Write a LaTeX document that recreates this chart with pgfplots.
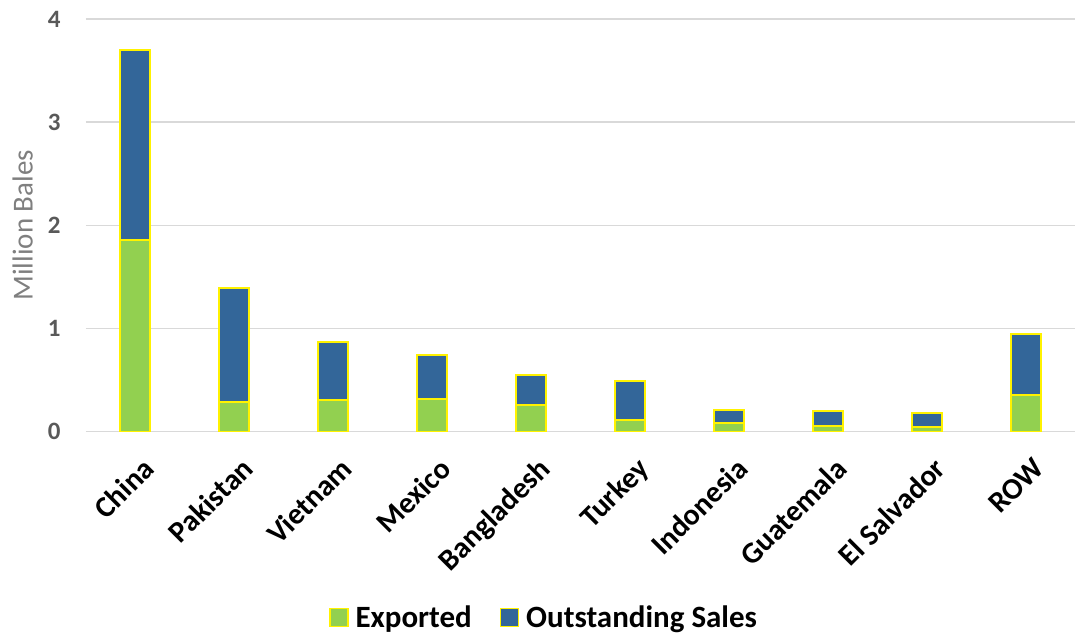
\documentclass[border=0pt]{standalone}
\usepackage{pgfplots}
\pgfplotsset{compat=1.18}
\usepackage{fontspec}
\setmainfont{Carlito}
\definecolor{expgreen}{HTML}{92D050}
\definecolor{outblue}{HTML}{336699}
\definecolor{tickgray}{HTML}{595959}
\definecolor{labgray}{HTML}{7F7F7F}
\definecolor{gridgray}{HTML}{D9D9D9}

\pgfplotstableread{
idx exported outstanding
0 1.86 1.84
1 0.29 1.10
2 0.31 0.555
3 0.32 0.425
4 0.26 0.285
5 0.115 0.375
6 0.08 0.133
7 0.058 0.142
8 0.05 0.134
9 0.36 0.586
}\bales

\begin{document}
\begin{tikzpicture}
\begin{axis}[
    scale only axis,
    width=990pt, height=413pt,
    ybar stacked,
    bar width=30pt,
    xmin=-0.5, xmax=9.5,
    ymin=0, ymax=4,
    ytick={0,1,2,3,4},
    xtick=data,
    xticklabels={China,Pakistan,Vietnam,Mexico,Bangladesh,Turkey,Indonesia,Guatemala,El Salvador,ROW},
    xticklabel style={rotate=45, anchor=north east, font=\fontsize{30}{36}\selectfont\bfseries, inner sep=1pt, yshift=-20pt, xshift=-12pt},
    yticklabel style={font=\fontsize{25}{30}\selectfont\bfseries, text=tickgray, xshift=-22pt},
    /pgf/number format/assume math mode=true,
    major tick length=0pt,
    axis line style={draw=none},
    ymajorgrids=true,
    grid style={gridgray, line width=1.5pt},
    ylabel={Million Bales},
    ylabel style={font=\fontsize{29}{34}\selectfont, text=labgray, at={(axis description cs:-0.064,0.5)}, anchor=center},
    legend style={at={(0.463,-0.45)}, anchor=center, legend columns=2, draw=none,
        font=\fontsize{31}{36}\selectfont\bfseries,
        /tikz/every odd column/.append style={column sep=5pt},
        /tikz/every even column/.append style={column sep=26pt}},
    legend image code/.code={\draw[#1, draw=yellow, line width=1.5pt] (0pt,-9pt) rectangle (18pt,9pt);},
]
\addplot[fill=expgreen, draw=yellow, line width=2pt] table[x=idx, y=exported] {\bales};
\addlegendentry{Exported}
\addplot[fill=outblue, draw=yellow, line width=2pt] table[x=idx, y=outstanding] {\bales};
\addlegendentry{Outstanding Sales}
\end{axis}
\path ([xshift=-86pt, yshift=19pt]current axis.north west);
\path ([yshift=-206pt]current axis.south west);
\end{tikzpicture}
\end{document}
